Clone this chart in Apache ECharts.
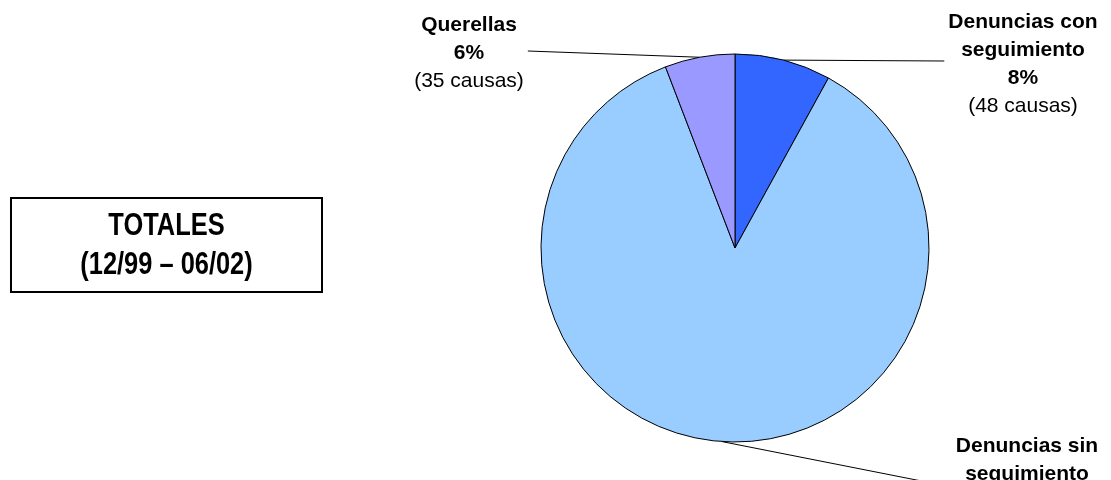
<!DOCTYPE html>
<html><head><meta charset="utf-8">
<script src="https://cdn.jsdelivr.net/npm/echarts@6/dist/echarts.min.js"></script>
<style>html,body{margin:0;padding:0;background:#fff}#c{width:1111px;height:480px}</style>
</head><body><div id="c"></div>
<script>
// ---- data ----
const categories = ['Denuncias con\nseguimiento', 'Denuncias sin\nseguimiento', 'Querellas'];
const causas = [48, 517, 35];
const boxTitle = ['TOTALES', '(12/99 – 06/02)'];

// ---- styles / layout ----
const sliceColors = ['#3366FF', '#99CCFF', '#9999FF'];
const labelAnchors = [
  { x: 1023, y: 63, lineY: 61, side: 'left' },
  { x: 1027, y: 487, lineY: 487, side: 'left' },
  { x: 469, y: 52, lineY: 51, side: 'right' }
];
const FONT = '"Liberation Sans", Arial, sans-serif';

const chart = echarts.init(document.getElementById('c'), null, { renderer: 'canvas' });

const seriesData = categories.map((name, i) => ({
  name: name,
  value: causas[i],
  itemStyle: { color: sliceColors[i] }
}));

chart.setOption({
  backgroundColor: '#ffffff',
  animation: false,
  graphic: [
    {
      type: 'rect',
      shape: { x: 11, y: 198, width: 311, height: 94 },
      style: { fill: '#ffffff', stroke: '#000000', lineWidth: 2 }
    },
    {
      type: 'text',
      x: 166.5, y: 246,
      scaleX: 0.82,
      style: {
        text: boxTitle.join('\n'),
        font: 'bold 31px ' + FONT,
        align: 'center',
        verticalAlign: 'middle',
        lineHeight: 39,
        fill: '#000000'
      }
    }
  ],
  series: [{
    type: 'pie',
    center: [735, 248],
    radius: 194,
    startAngle: 90,
    clockwise: true,
    avoidLabelOverlap: false,
    data: seriesData,
    itemStyle: { borderColor: '#000000', borderWidth: 1 },
    emphasis: { disabled: true },
    label: {
      show: true,
      position: 'outside',
      align: 'center',
      formatter: function (p) {
        const nameLines = p.name.split('\n').map(s => '{b|' + s + '}');
        return nameLines.join('\n') + '\n{b|' + Math.round(p.percent) + '%}\n{n|(' + p.value + ' causas)}';
      },
      rich: {
        b: { fontFamily: FONT, fontSize: 21, fontWeight: 'bold', color: '#000', lineHeight: 28, align: 'center' },
        n: { fontFamily: FONT, fontSize: 21, fontWeight: 'normal', color: '#000', lineHeight: 28, align: 'center' }
      }
    },
    labelLine: {
      show: true,
      length: 10,
      length2: 10,
      lineStyle: { color: '#000000', width: 1 }
    },
    labelLayout: function (params) {
      const a = labelAnchors[params.dataIndex];
      const w = params.labelRect.width;
      const pts = params.labelLinePoints;
      const ex = a.side === 'left' ? a.x - w / 2 - 4 : a.x + w / 2 + 4;
      const end = [ex, a.lineY];
      const out = { x: a.x, y: a.y + 1, align: 'center', verticalAlign: 'middle' };
      if (pts) out.labelLinePoints = [pts[0], end, end];
      return out;
    }
  }]
});
</script>
</body></html>
